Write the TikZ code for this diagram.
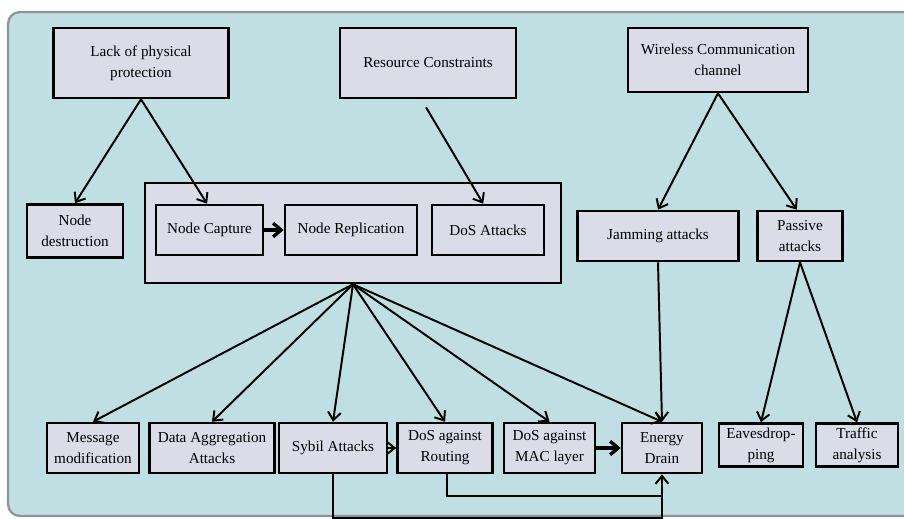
\documentclass[tikz,border=0pt]{standalone}
\usepackage{fontspec}
\setmainfont{Liberation Serif}
\usetikzlibrary{arrows.meta,positioning,calc}
\definecolor{panelblue}{HTML}{BFDFE3}
\definecolor{boxgray}{HTML}{DADCE7}
\definecolor{rimgray}{HTML}{8C9596}

\begin{document}
\begin{tikzpicture}[x=0.025cm, y=-0.025cm,
    threat/.style={draw, rectangle, line width=1.8pt, fill=boxgray, inner sep=1pt,
                   align=center, minimum height=1.25cm,
                   font=\fontsize{10.8}{15}\selectfont},
    arr/.style={-{Straight Barb[length=2mm, width=3.2mm]}, line width=1.4pt},
    fatarr/.style={-{Straight Barb[length=2mm, width=3.4mm]}, line width=2.4pt},
    link/.style={line width=1.4pt}
]

% --- canvas ---
\useasboundingbox (0,0) rectangle (904,519);
\fill[white] (0,0) rectangle (904,519);
\draw[rimgray, line width=1.6pt, fill=panelblue, rounded corners=0.3cm] (8,12) rectangle (930,516);

% --- root causes ---
\node[threat, minimum width=4.375cm, minimum height=1.75cm] (lack) at (141,63)  {Lack of physical\\protection};
\node[threat, minimum width=4.4cm, minimum height=1.75cm]   (res)  at (428,63)  {Resource Constraints};
\node[threat, minimum width=4.5cm, minimum height=1.6cm]    (wcc)  at (718,60)  {Wireless Communication\\channel};

% --- middle row ---
\node[threat, minimum width=2.4cm, minimum height=1.325cm] (ndes) at (75,231) {Node\\destruction};
\node[threat, minimum width=10.4cm, minimum height=2.5cm] (group) at (353,233) {};
\node[threat, minimum width=2.675cm] (ncap) at (209.5,230) {Node Capture};
\node[threat, minimum width=3.3cm]   (nrep) at (351,230)   {Node Replication};
\node[threat, minimum width=2.8cm]   (dos)  at (488,230)   {DoS Attacks};
\node[threat, minimum width=4.025cm] (jam)  at (658,236)   {Jamming attacks};
\node[threat, minimum width=2.125cm] (pas)  at (800,236)   {Passive\\attacks};

% --- bottom row ---
\node[threat, minimum width=2.3cm]   (msg)  at (93,448)    {Message\\modification};
\node[threat, minimum width=3.125cm] (agg)  at (212,448)   {Data Aggregation\\Attacks};
\node[threat, minimum width=2.7cm]   (syb)  at (333,448)   {Sybil Attacks};
\node[threat, minimum width=2.375cm] (drt)  at (445,448)   {DoS against\\Routing};
\node[threat, minimum width=2.275cm] (dmac) at (549.5,448) {DoS against\\MAC layer};
\node[threat, minimum width=2.0cm]   (ened) at (662,448)   {Energy\\Drain};
\node[threat, minimum width=2.1cm, minimum height=1.075cm]  (eav) at (761,445) {Eavesdrop-\\ping};
\node[threat, minimum width=2.05cm, minimum height=1.075cm] (trf) at (857,445) {Traffic\\analysis};

% --- causes to attacks ---
\draw[arr] (lack.south) -- (ndes.north);
\draw[arr] (lack.south) -- ([xshift=-0.06cm]ncap.north);
\draw[arr] ([xshift=-0.05cm, yshift=-0.2cm]res.south) -- ([xshift=-0.12cm]dos.north);
\draw[arr] (wcc.south) -- (jam.north);
\draw[arr] (wcc.south) -- ([xshift=-0.08cm]pas.north);
\draw[fatarr] (ncap) -- (nrep);

% --- fan out of the group ---
\foreach \t in {msg, agg, syb, drt, dmac, ened}
    \draw[arr] (group.south) -- (\t.north);
\draw[arr] (jam.south) -- (ened.north);
\draw[arr] (pas.south) -- (eav.north);
\draw[arr] (pas.south) -- (trf.north);

% --- bottom row links ---
\draw[arr] (syb) -- (drt);
\draw[fatarr] (dmac) -- (ened);
\draw[link] ([xshift=0.05cm]drt.south) |- ([yshift=-0.55cm]ened.south);
\draw[arr] (syb.south) -- ++(0,-1.1cm) -| (ened.south);

\end{tikzpicture}
\end{document}
